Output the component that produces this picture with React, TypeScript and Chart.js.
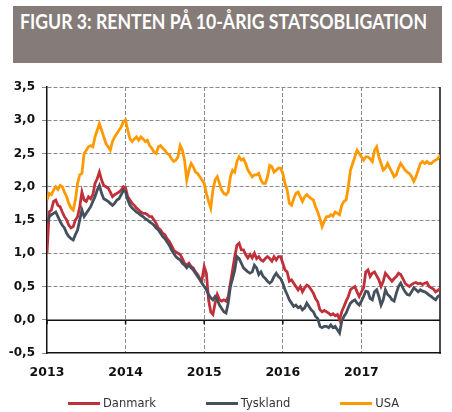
import React, { useEffect, useLayoutEffect, useRef } from 'react';
import { Chart, registerables } from 'chart.js';

Chart.register(...registerables);

const title = 'FIGUR 3: RENTEN PÅ 10-ÅRIG STATSOBLIGATION';
const seriesNames = ['Danmark', 'Tyskland', 'USA'];
const seriesColors = ['#c0303a', '#44505c', '#ff9900'];
const startYear = 2013;
const endYear = 2018;
const obsPerYear = 36;
const xTickLabels = ['2013', '2014', '2015', '2016', '2017'];
const yTickLabels = ['-0,5', '0,0', '0,5', '1,0', '1,5', '2,0', '2,5', '3,0', '3,5'];
const yMin = -0.5;
const yMax = 3.5;
const yStep = 0.5;

const danmark = [
  1.00, 1.62, 1.65, 1.78, 1.80, 1.72, 1.70, 1.62, 1.55, 1.50, 1.42, 1.38,
  1.40, 1.50, 1.55, 1.70, 1.92, 1.80, 1.78, 1.85, 1.82, 1.88, 2.05, 2.12,
  2.22, 2.10, 2.02, 2.00, 1.98, 1.92, 1.85, 1.88, 1.90, 1.92, 1.95, 2.00,
  1.98, 1.85, 1.80, 1.75, 1.72, 1.68, 1.65, 1.62, 1.60, 1.60, 1.58, 1.55,
  1.55, 1.50, 1.45, 1.38, 1.35, 1.30, 1.28, 1.22, 1.18, 1.12, 1.05, 1.02,
  1.00, 0.98, 0.92, 0.85, 0.82, 0.85, 0.80, 0.78, 0.72, 0.68, 0.62, 0.60,
  0.80, 0.70, 0.30, 0.12, 0.08, 0.25, 0.38, 0.30, 0.28, 0.30, 0.28, 0.35,
  0.55, 0.75, 0.95, 1.12, 1.15, 1.05, 1.05, 0.98, 0.93, 0.98, 0.93, 1.00,
  0.92, 0.95, 0.90, 0.88, 0.92, 0.95, 0.92, 0.88, 0.95, 0.90, 0.95, 0.95,
  0.85, 0.75, 0.72, 0.58, 0.60, 0.55, 0.50, 0.45, 0.50, 0.42, 0.48, 0.52,
  0.50, 0.45, 0.40, 0.32, 0.27, 0.15, 0.12, 0.14, 0.12, 0.10, 0.07, 0.09,
  0.06, 0.08, 0.00, 0.12, 0.20, 0.28, 0.35, 0.45, 0.48, 0.50, 0.42, 0.35,
  0.42, 0.48, 0.72, 0.75, 0.65, 0.70, 0.72, 0.66, 0.60, 0.50, 0.58, 0.70,
  0.66, 0.62, 0.58, 0.62, 0.65, 0.70, 0.68, 0.62, 0.55, 0.52, 0.50, 0.53,
  0.55, 0.56, 0.54, 0.55, 0.53, 0.55, 0.56, 0.50, 0.48, 0.46, 0.42, 0.44,
  0.47,
];

const tyskland = [
  1.45, 1.55, 1.58, 1.60, 1.62, 1.55, 1.48, 1.42, 1.38, 1.30, 1.25, 1.22,
  1.20, 1.28, 1.35, 1.50, 1.65, 1.55, 1.60, 1.65, 1.70, 1.78, 1.85, 1.95,
  2.02, 1.90, 1.82, 1.80, 1.78, 1.75, 1.72, 1.75, 1.80, 1.82, 1.88, 1.95,
  1.92, 1.80, 1.72, 1.68, 1.65, 1.62, 1.60, 1.57, 1.55, 1.52, 1.50, 1.47,
  1.45, 1.42, 1.38, 1.35, 1.30, 1.25, 1.22, 1.17, 1.12, 1.05, 1.00, 0.95,
  0.92, 0.90, 0.85, 0.82, 0.78, 0.82, 0.78, 0.75, 0.70, 0.65, 0.60, 0.55,
  0.50, 0.45, 0.38, 0.33, 0.30, 0.35, 0.30, 0.22, 0.17, 0.12, 0.10, 0.25,
  0.50, 0.62, 0.75, 0.95, 0.92, 0.85, 0.78, 0.75, 0.72, 0.70, 0.72, 0.82,
  0.78, 0.68, 0.72, 0.65, 0.62, 0.58, 0.55, 0.58, 0.65, 0.70, 0.65, 0.62,
  0.55, 0.45, 0.38, 0.30, 0.25, 0.20, 0.22, 0.18, 0.20, 0.15, 0.18, 0.25,
  0.20, 0.15, 0.12, 0.05, 0.02, -0.10, -0.12, -0.10, -0.10, -0.12, -0.08, -0.12,
  -0.10, -0.15, -0.20, -0.02, 0.05, 0.10, 0.18, 0.25, 0.28, 0.30, 0.25, 0.22,
  0.28, 0.35, 0.43, 0.42, 0.32, 0.30, 0.42, 0.45, 0.35, 0.22, 0.30, 0.45,
  0.38, 0.35, 0.30, 0.28, 0.40, 0.50, 0.55, 0.48, 0.42, 0.38, 0.37, 0.42,
  0.48, 0.45, 0.42, 0.45, 0.43, 0.42, 0.40, 0.37, 0.35, 0.32, 0.30, 0.35,
  0.37,
];

const usa = [
  1.80, 1.90, 1.88, 1.95, 2.00, 1.96, 2.02, 2.00, 1.92, 1.85, 1.75, 1.68,
  1.65, 1.80, 2.05, 2.18, 2.20, 2.50, 2.55, 2.60, 2.62, 2.60, 2.75, 2.85,
  2.95, 2.85, 2.75, 2.65, 2.60, 2.55, 2.68, 2.75, 2.80, 2.85, 2.90, 2.98,
  3.00, 2.85, 2.72, 2.68, 2.72, 2.75, 2.70, 2.75, 2.72, 2.68, 2.70, 2.62,
  2.58, 2.52, 2.50, 2.60, 2.62, 2.58, 2.55, 2.50, 2.48, 2.42, 2.38, 2.40,
  2.45, 2.62, 2.55, 2.40, 2.10, 2.25, 2.35, 2.30, 2.22, 2.20, 2.15, 2.10,
  2.05, 1.90, 1.78, 1.68, 1.95, 2.10, 2.15, 2.05, 1.95, 1.90, 1.88, 1.92,
  2.15, 2.25, 2.22, 2.38, 2.45, 2.40, 2.42, 2.35, 2.25, 2.20, 2.15, 2.18,
  2.18, 2.20, 2.10, 2.05, 2.05, 2.15, 2.32, 2.30, 2.22, 2.25, 2.28, 2.28,
  2.20, 2.05, 1.95, 1.75, 1.72, 1.82, 1.90, 1.92, 1.85, 1.78, 1.85, 1.88,
  1.85, 1.82, 1.80, 1.70, 1.62, 1.52, 1.40, 1.48, 1.55, 1.55, 1.58, 1.56,
  1.62, 1.60, 1.58, 1.72, 1.78, 1.80, 2.00, 2.25, 2.35, 2.45, 2.55, 2.50,
  2.45, 2.40, 2.45, 2.45, 2.42, 2.38, 2.55, 2.60, 2.45, 2.35, 2.25, 2.28,
  2.35, 2.28, 2.22, 2.15, 2.18, 2.28, 2.35, 2.30, 2.25, 2.22, 2.20, 2.15,
  2.08, 2.15, 2.25, 2.35, 2.38, 2.35, 2.38, 2.35, 2.35, 2.38, 2.40, 2.42,
  2.48,
];

const seriesValues = [danmark, tyskland, usa];
const drawOrder = [1, 0, 2];

const axisLinesPlugin = {
  id: 'axisLines',
  beforeDatasetsDraw(chart: any) {
    const { ctx, chartArea, scales } = chart;
    const y0 = Math.round(scales.y.getPixelForValue(0)) + 0.25;
    ctx.save();
    ctx.strokeStyle = '#111';
    ctx.lineWidth = 1.5;
    ctx.setLineDash([]);
    ctx.beginPath();
    ctx.moveTo(chartArea.left, y0);
    ctx.lineTo(chartArea.right, y0);
    scales.x.ticks.forEach((t: any) => {
      const px = scales.x.getPixelForValue(t.value);
      ctx.moveTo(px, y0);
      ctx.lineTo(px, y0 + 4);
    });
    ctx.moveTo(chartArea.right, chartArea.top);
    ctx.lineTo(chartArea.right, chartArea.bottom + 0.75);
    ctx.stroke();
    ctx.restore();
  },
};

export default function App() {
  const canvasRef = useRef<HTMLCanvasElement | null>(null);
  const titleRef = useRef<HTMLDivElement | null>(null);

  useLayoutEffect(() => {
    const el = titleRef.current;
    if (!el) return;
    const w = el.getBoundingClientRect().width;
    if (w > 0) el.style.transform = `scaleX(${407 / w})`;
  }, []);

  useEffect(() => {
    if (!canvasRef.current) return;
    const dates = danmark.map((_, i) => startYear + i / obsPerYear);
    const chart = new Chart(canvasRef.current, {
      type: 'line',
      data: {
        datasets: seriesNames.map((name, s) => ({
          label: name,
          data: dates.map((x, i) => ({ x, y: seriesValues[s][i] })),
          borderColor: seriesColors[s],
          backgroundColor: seriesColors[s],
          borderWidth: 2.8,
          pointRadius: 0,
          tension: 0,
          order: drawOrder[s],
        })),
      },
      options: {
        animation: false,
        responsive: false,
        maintainAspectRatio: false,
        layout: { padding: { top: 23, right: 12, left: 0, bottom: 0 } },
        plugins: { legend: { display: false }, tooltip: { enabled: false } },
        scales: {
          x: {
            type: 'linear',
            min: startYear,
            max: endYear,
            afterFit: (scale: any) => {
              scale.height = 59;
            },
            ticks: {
              stepSize: 1,
              autoSkip: false,
              maxRotation: 0,
              padding: 12,
              color: '#111',
              font: { family: 'DejaVu Sans', size: 12.5, weight: 'bold' },
              callback: (_v: any, i: number) => xTickLabels[i] ?? '',
            },
            grid: {
              color: (ctx: any) =>
                ctx.tick && (ctx.tick.value === startYear || ctx.tick.value === endYear)
                  ? 'rgba(0,0,0,0)'
                  : '#8a8a8a',
              lineWidth: 1,
              drawTicks: false,
            },
            border: { display: true, color: '#111', width: 1.5, dash: [4, 2] },
          },
          y: {
            min: yMin,
            max: yMax,
            afterFit: (scale: any) => {
              scale.width = 47;
            },
            ticks: {
              stepSize: yStep,
              padding: 7,
              color: '#111',
              font: { family: 'DejaVu Sans', size: 12, weight: 'bold' },
              callback: (_v: any, i: number) => yTickLabels[i] ?? '',
            },
            grid: {
              color: (ctx: any) =>
                ctx.tick && (ctx.tick.value === yMin || ctx.tick.value === 0)
                  ? 'rgba(0,0,0,0)'
                  : '#8a8a8a',
              lineWidth: 1,
              drawTicks: true,
              tickLength: 5,
              tickColor: '#8a8a8a',
              tickBorderDash: [4, 2],
            },
            border: { display: true, color: '#111', width: 1.5, dash: [4, 2] },
          },
        },
      },
      plugins: [axisLinesPlugin],
    });
    return () => chart.destroy();
  }, []);

  return (
    <div style={{ position: 'absolute', left: 0, top: 0, width: 452, height: 412, background: '#fff', overflow: 'hidden' }}>
      <div
        style={{
          position: 'absolute',
          left: 13,
          top: 6,
          width: 429,
          height: 57,
          background: '#857c79',
        }}
      />
      <div
        ref={titleRef}
        style={{
          position: 'absolute',
          left: 20,
          top: 8,
          color: '#ffffff',
          fontFamily: 'Lato, sans-serif',
          fontWeight: 700,
          fontSize: 21,
          lineHeight: 'normal',
          whiteSpace: 'nowrap',
          transformOrigin: 'left top',
        }}
      >
        {title}
      </div>
      <canvas
        ref={canvasRef}
        width={452}
        height={348}
        style={{ position: 'absolute', left: 0, top: 64, width: 452, height: 348 }}
      />
      <div
        style={{
          position: 'absolute',
          left: 68,
          top: 396,
          display: 'flex',
          alignItems: 'center',
          gap: 50,
          fontFamily: '"DejaVu Sans", sans-serif',
          fontSize: 11.5,
          color: '#333',
          lineHeight: '14px',
        }}
      >
        {seriesNames.map((name, s) => (
          <div key={name} style={{ display: 'flex', alignItems: 'center' }}>
            <div style={{ width: 32, height: 3, background: seriesColors[s], marginRight: 3 }} />
            <span>{name}</span>
          </div>
        ))}
      </div>
    </div>
  );
}
